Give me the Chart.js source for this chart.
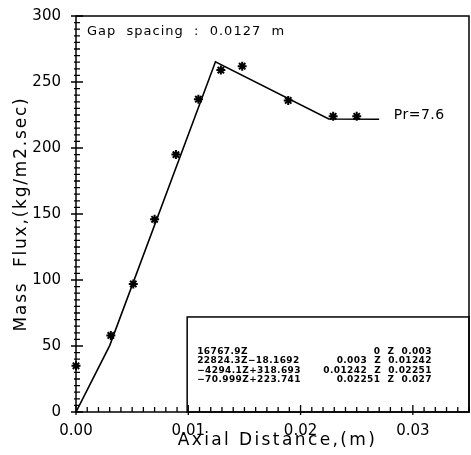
<!DOCTYPE html>
<html>
<head>
<meta charset="utf-8">
<script src="https://cdn.jsdelivr.net/npm/chart.js@4"></script>
<style>
  html, body { margin: 0; padding: 0; background: #fff; }
  #wrap { width: 471px; height: 455px; }
</style>
</head>
<body>
<div id="wrap"><canvas id="fluxChart" width="471" height="455"></canvas></div>
<script>
// measured points (stars)
const measX = [0.0, 0.0031, 0.0051, 0.0070, 0.0089, 0.0109, 0.0129, 0.0148, 0.0189, 0.0229, 0.0250];
const measY = [35, 58, 97, 146, 195, 237, 259, 262, 236, 224, 224];

// piecewise fit line (breakpoints)
const fitX = [0.0, 0.003, 0.01242, 0.02251, 0.027];
const fitY = [0, 50.3, 265.3, 222.0, 221.8];

// fit equations shown in the box
const eqLeft = ['16767.9Z', '22824.3Z\u221218.1692', '\u22124294.1Z+318.693', '\u221270.999Z+223.741'];
const eqRight = ['0  Z  0.003', '0.003  Z  0.01242', '0.01242  Z  0.02251', '0.02251  Z  0.027'];

const xTicks = [0, 0.01, 0.02, 0.03];
const yTicks = [0, 50, 100, 150, 200, 250, 300];

const FONT = 'DejaVu Sans';

// frame, inward ticks, text and the equation box
const decorPlugin = {
    id: 'decor',
    afterDraw(chart) {
        const c = chart.ctx;
        const a = chart.chartArea;
        const xs = chart.scales.x, ys = chart.scales.y;
        c.save();
        c.strokeStyle = '#000';
        c.fillStyle = '#000';
        c.lineWidth = 1.5;
        c.strokeRect(a.left, a.top, a.right - a.left, a.bottom - a.top);

        // equation box
        const bx = xs.getPixelForValue(0.0099);
        const by = ys.getPixelForValue(72);
        c.strokeRect(bx, by, a.right - bx, a.bottom - by);
        c.font = 'bold 9px ' + FONT;
        c.textBaseline = 'alphabetic';
        c.letterSpacing = '0.4px';
        for (let i = 0; i < eqLeft.length; i++) {
            const ty = by + 37 + i * 9.5;
            c.textAlign = 'left';
            c.fillText(eqLeft[i], bx + 10, ty);
            c.textAlign = 'right';
            c.fillText(eqRight[i], xs.getPixelForValue(0.0317), ty);
        }

        // ticks
        c.lineWidth = 1.3;
        c.beginPath();
        for (let i = 0; i <= 35; i++) {
            const px = xs.getPixelForValue(i / 1000);
            const len = (i % 10 === 0) ? 7 : 5;
            c.moveTo(px, a.bottom + (i % 10 === 0 ? 3 : 0));
            c.lineTo(px, a.bottom - len);
        }
        for (let i = 0; i <= 60; i++) {
            const py = ys.getPixelForValue(i * 5);
            const len = (i % 10 === 0) ? 7 : 4;
            c.moveTo(a.left - (i % 10 === 0 ? 5 : 2), py);
            c.lineTo(a.left + len, py);
        }
        c.stroke();

        // gap spacing label
        c.font = '13px ' + FONT;
        c.letterSpacing = '1px';
        c.textAlign = 'left';
        c.fillText('Gap  spacing  :  0.0127  m', a.left + 11, a.top + 19);

        // Pr label
        c.font = '14px ' + FONT;
        c.letterSpacing = '0.5px';
        c.textBaseline = 'middle';
        c.fillText('Pr=7.6', xs.getPixelForValue(0.0283), ys.getPixelForValue(225));

        // axis titles
        c.font = '17px ' + FONT;
        c.letterSpacing = '2.4px';
        c.textAlign = 'center';
        c.textBaseline = 'middle';
        c.fillText('Axial Distance,(m)', (a.left + a.right) / 2 + 5, 441);
        c.translate(22, 214);
        c.rotate(-Math.PI / 2);
        c.letterSpacing = '1.8px';
        c.fillText('Mass  Flux,(kg/m2.sec)', 0, 0);
        c.restore();
    }
};

const ctx = document.getElementById('fluxChart').getContext('2d');
const myChart = new Chart(ctx, {
    type: 'scatter',
    data: {
        datasets: [
            {
                label: 'fit',
                data: fitX.map((x, i) => ({ x: x, y: fitY[i] })),
                showLine: true,
                borderColor: '#000',
                borderWidth: 1.6,
                pointRadius: 0,
                tension: 0
            },
            {
                label: 'measured',
                data: measX.map((x, i) => ({ x: x, y: measY[i] })),
                showLine: false,
                clip: false,
                pointStyle: 'star',
                pointRadius: 4.5,
                borderColor: '#000',
                borderWidth: 2,
                backgroundColor: '#000'
            }
        ]
    },
    options: {
        responsive: false,
        animation: false,
        devicePixelRatio: 1,
        layout: { autoPadding: false, padding: { top: 13, right: 2, left: 0, bottom: 0 } },
        plugins: { legend: { display: false }, tooltip: { enabled: false } },
        scales: {
            x: {
                type: 'linear', min: 0, max: 0.035,
                afterBuildTicks: s => { s.ticks = xTicks.map(v => ({ value: v })); },
                afterFit: s => { s.height = 43; },
                grid: { display: false },
                border: { display: false },
                ticks: {
                    color: '#000', padding: 2,
                    font: { family: FONT, size: 15 },
                    callback: v => v.toFixed(2)
                }
            },
            y: {
                type: 'linear', min: 0, max: 300,
                afterBuildTicks: s => { s.ticks = yTicks.map(v => ({ value: v })); },
                afterFit: s => { s.width = 76; },
                grid: { display: false },
                border: { display: false },
                ticks: {
                    color: '#000', padding: 7,
                    font: { family: FONT, size: 15 }
                }
            }
        }
    },
    plugins: [decorPlugin]
});
</script>
</body>
</html>
